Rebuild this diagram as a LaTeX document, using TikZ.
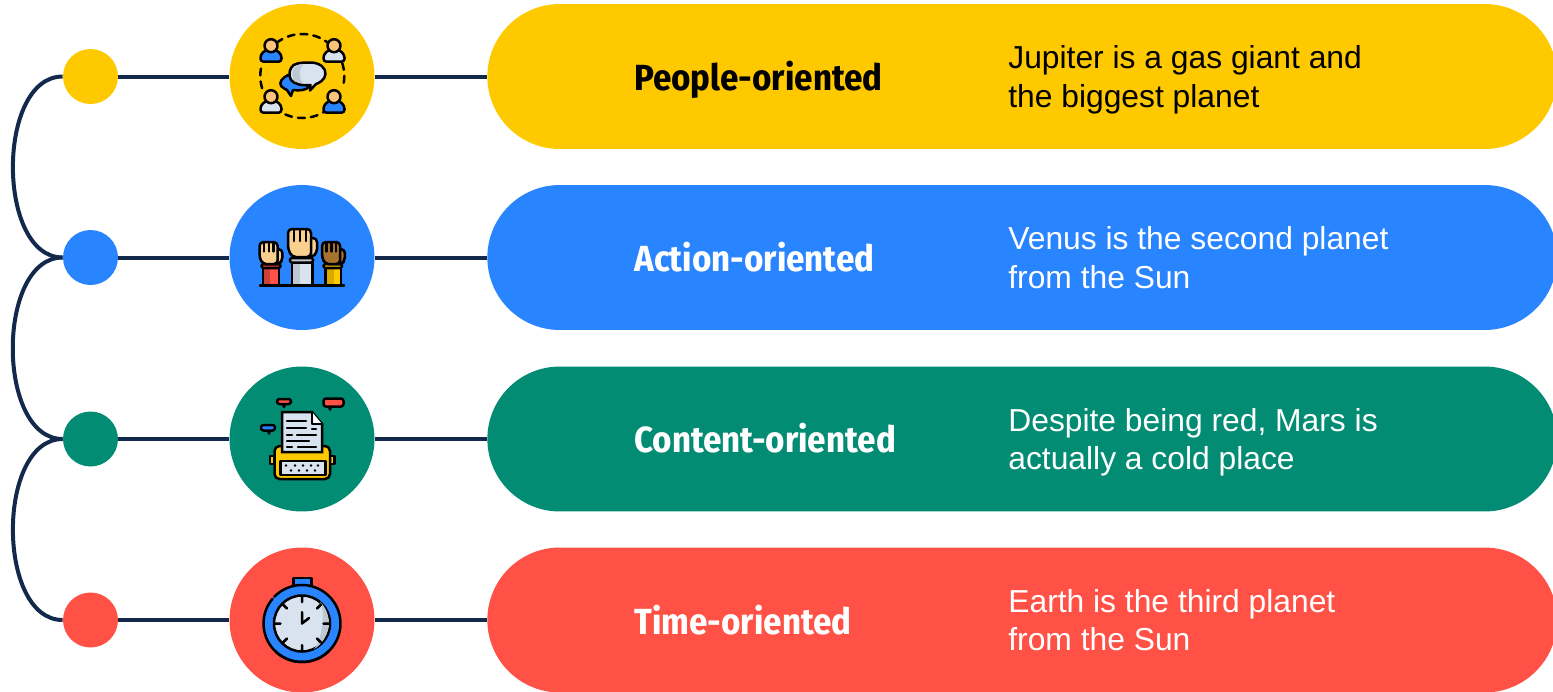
\documentclass[tikz,border=0pt]{standalone}
\usepackage{fontspec}
\setmainfont{Liberation Sans}
\newfontfamily\titlefont{Fira Sans Condensed}
\usetikzlibrary{positioning,calc}
\definecolor{navy}{HTML}{12294B}
\definecolor{cyellow}{HTML}{FFC900}
\definecolor{cblue}{HTML}{2884FF}
\definecolor{cgreen}{HTML}{038C74}
\definecolor{cred}{HTML}{FF5145}
\definecolor{skin}{HTML}{FBD08F}
\definecolor{paper}{HTML}{D8E3EF}
\definecolor{papershade}{HTML}{BCC8D2}
\definecolor{brownskin}{HTML}{A5732E}
\tikzset{
dot/.style={circle,minimum size=1.1cm,inner sep=0pt},
iconbg/.style={circle,minimum size=2.9cm,inner sep=0pt},
pill/.style={minimum width=21.4cm,minimum height=2.9cm,rounded corners=1.45cm,anchor=west,inner sep=0pt},
title/.style={anchor=base west,inner sep=0pt,font=\titlefont\bfseries\fontsize{20.7}{26}\selectfont},
body/.style={anchor=north west,inner sep=0pt,align=left,font=\fontsize{18.1}{21.9}\selectfont},
link/.style={draw=navy,line width=0.08cm},
ic/.style={draw=black,line width=0.05cm,line join=round,line cap=round}
}
% one person of the first icon, origin at the head
\newcommand{\personicon}[3]{
\draw[ic,fill=#3,rounded corners=0.06cm] (#1-10.5,#2+16) -- (#1-10.5,#2+9) -- (#1-5,#2+4) -- (#1+5,#2+4) -- (#1+10.5,#2+9) -- (#1+10.5,#2+16) -- cycle;
\draw[ic,fill=skin!85!orange] (#1,#2) circle (6.5);
}
% raised fist, origin at top left of the fingers
\newcommand{\fisticon}[4]{
\begin{scope}[shift={(#1,#2)},scale=#3]
\draw[ic,fill=#4,rounded corners=0.08cm] (20,9) -- (29,9) -- (29,24) -- (24,28) -- (20,28) -- cycle;
\draw[ic,fill=#4,rounded corners=0.08cm] (0,0) -- (23,0) -- (23,28) -- (4,28) -- (0,20) -- cycle;
\draw[ic] (6,1) -- (6,12) (12,1) -- (12,12) (18,1) -- (18,12);
\end{scope}
}
% small speech label of the typewriter icon
\newcommand{\tagicon}[6]{
\draw[ic,fill=black] (#5,#2+#4) -- (#5+1,#2+#4+3) -- (#5+2,#2+#4) -- cycle;
\draw[ic,fill=#6,rounded corners=0.05cm] (#1,#2) rectangle (#3,#2+#4);
}
\begin{document}
\begin{tikzpicture}[x=0.02cm,y=-0.02cm]
\useasboundingbox (0,0) rectangle (1553,691);

\node (pill1) at (487,76.5) [pill,fill=cyellow] {};
\node (pill2) at (487,257.5) [pill,fill=cblue] {};
\node (pill3) at (487,439) [pill,fill=cgreen] {};
\node (pill4) at (487,620) [pill,fill=cred] {};

\node (dot1) at (90.5,76.5) [dot,fill=cyellow] {};
\node (dot2) at (90.5,257.5) [dot,fill=cblue] {};
\node (dot3) at (90.5,439) [dot,fill=cgreen] {};
\node (dot4) at (90.5,620) [dot,fill=cred] {};

\node (icon1) at (302,76.5) [iconbg,fill=cyellow] {};
\node (icon2) at (302,257.5) [iconbg,fill=cblue] {};
\node (icon3) at (302,439) [iconbg,fill=cgreen] {};
\node (icon4) at (302,620) [iconbg,fill=cred] {};

\draw[link] (dot1) -- (icon1);
\draw[link] (dot2) -- (icon2);
\draw[link] (dot3) -- (icon3);
\draw[link] (dot4) -- (icon4);
\draw[link] (icon1) -- (pill1.west);
\draw[link] (icon2) -- (pill2.west);
\draw[link] (icon3) -- (pill3.west);
\draw[link] (icon4) -- (pill4.west);

\draw[link] (dot1.west) to[out=180,in=180,looseness=0.94] (dot2.west);
\draw[link] (dot2.west) to[out=180,in=180,looseness=0.94] (dot3.west);
\draw[link] (dot3.west) to[out=180,in=180,looseness=0.94] (dot4.west);

\node (title1) at (634,90) [title,text=black] {People-oriented};
\node (title2) at (634,271) [title,text=white] {Action-oriented};
\node (title3) at (634,452.5) [title,text=white] {Content-oriented};
\node (title4) at (634,634) [title,text=white] {Time-oriented};

\node (text1) at (1008,45.5) [body,text=black] {Jupiter is a gas giant and\\the biggest planet};
\node (text2) at (1008,226.5) [body,text=white] {Venus is the second planet\\from the Sun};
\node (text3) at (1008,408) [body,text=white] {Despite being red, Mars is\\actually a cold place};
\node (text4) at (1008,589) [body,text=white] {Earth is the third planet\\from the Sun};

% people icon
\draw[ic,dash pattern=on 0.14cm off 0.12cm] (302.3,76) ++(51:42) arc (51:129:42);
\draw[ic,dash pattern=on 0.14cm off 0.12cm] (302.3,76) ++(232:42) arc (232:308:42);
\draw[ic,dash pattern=on 0.14cm off 0.12cm] (302.3,76) ++(163:42) arc (163:198:42);
\draw[ic,dash pattern=on 0.14cm off 0.12cm] (302.3,76) ++(-18:42) arc (-18:17:42);
\personicon{271}{45.7}{cblue}
\personicon{334}{45.7}{paper}
\personicon{271}{96.7}{paper}
\personicon{334}{96.7}{cblue}
\draw[ic,fill=cblue] (288,75) .. controls (282,78) and (279,82) .. (281,86) .. controls (283,88) and (285,89) .. (287,90) -- (291,96) -- (293,90) .. controls (300,91) and (306,90) .. (309,87) -- (300,80) -- cycle;
\draw[ic,fill=paper] (291,68) .. controls (293,63) and (301,62.5) .. (310,62.5) .. controls (320,62.5) and (326,68) .. (325.5,74) .. controls (325,80) and (319,83) .. (316,84) -- (310,90.5) -- (310.5,85) .. controls (302,86) and (294,84) .. (291,80) .. controls (289,76) and (289,72) .. (291,68) -- cycle;
\fill[papershade] (293.5,69) .. controls (295,66) and (299,65) .. (303,65) .. controls (299,68) and (298,78) .. (303,83) .. controls (298,83) and (294,81) .. (293,79) .. controls (292,76) and (292,72) .. (293.5,69) -- cycle;

% hands icon
\draw[ic,fill=cred] (263,267) rectangle (279,285);
\fill[cred!80!black] (264,268) rectangle (270,284);
\draw[ic,fill=cred!70!black,rounded corners=0.04cm] (261.5,264) rectangle (280.5,268);
\fisticon{259.5}{242}{0.79}{skin}
\draw[ic,fill=paper] (292,262) rectangle (312.5,285);
\fill[papershade] (293,263) rectangle (300,284);
\draw[ic,fill=papershade,rounded corners=0.04cm] (290,258) rectangle (313,262.5);
\fisticon{288}{229}{1}{skin}
\draw[ic,fill=cyellow] (325.5,267) rectangle (341,285);
\fill[cyellow!85!black] (326.5,268) rectangle (334,284);
\draw[ic,fill=cyellow!80!black,rounded corners=0.04cm] (323.5,264) rectangle (342,268);
\fisticon{322}{242}{0.79}{brownskin}
\draw[ic] (260,285.5) -- (344,285.5);

% typewriter icon
\draw[ic,fill=cyellow] (270,456) rectangle (274.5,464);
\draw[ic,fill=cyellow] (330,456) rectangle (334.5,464);
\draw[ic,fill=cyellow,rounded corners=0.1cm] (274.5,446) rectangle (330,479);
\draw[ic,fill=paper,line join=miter] (282,412) -- (312,412) -- (322,424) -- (322,452) -- (282,452) -- cycle;
\draw[ic,fill=white] (312,412) -- (312,424) -- (322,424);
\draw[ic] (287,421) -- (306,421) (287,428) -- (306,428) (312,429) -- (316,429) (287,435) -- (292,435) (297,435) -- (316,435) (287,441) -- (309,441) (287,447) -- (292,447) (298,447) -- (316,447);
\draw[ic,fill=paper] (280.5,461) rectangle (325.5,475);
\foreach \px in {286,295,303,311,318} {\fill[black] (\px,465.5) circle (1.3);}
\foreach \px in {291,299,307,315} {\fill[black] (\px,470.5) circle (1.3);}
\tagicon{277}{399}{291}{5}{283}{cred}
\tagicon{323.5}{398.5}{343.5}{8}{329}{cred}
\tagicon{261}{425}{275}{5.5}{268}{cblue}

% stopwatch icon
\draw[ic,fill=cblue] (293.5,578) rectangle (311.5,587);
\fill[cblue] (302,623.5) circle (38.5);
\draw[ic] (302,623.5) ++(133:38.5) arc (133:-136:38.5);
\draw[ic] (302,623.5) ++(-140:38.5) arc (-140:-315:38.5);
\draw[ic,fill=paper] (302,623.5) circle (28);
\fill[papershade] (320,602) .. controls (326,607) and (329,616) .. (329,623.5) .. controls (329,633) and (322,645) .. (314,649) .. controls (322,640) and (326,613) .. (320,602) -- cycle;
\draw[ic] (302,596.5) -- (302,602) (302,645) -- (302,650.5) (275,623.5) -- (280.5,623.5) (323.5,623.5) -- (329,623.5) (283,604.5) -- (287,608.5) (321,604.5) -- (317,608.5) (283,642.5) -- (287,638.5) (321,642.5) -- (317,638.5);
\draw[ic] (302,612) -- (302,623.5) -- (309,618);
\end{tikzpicture}
\end{document}
